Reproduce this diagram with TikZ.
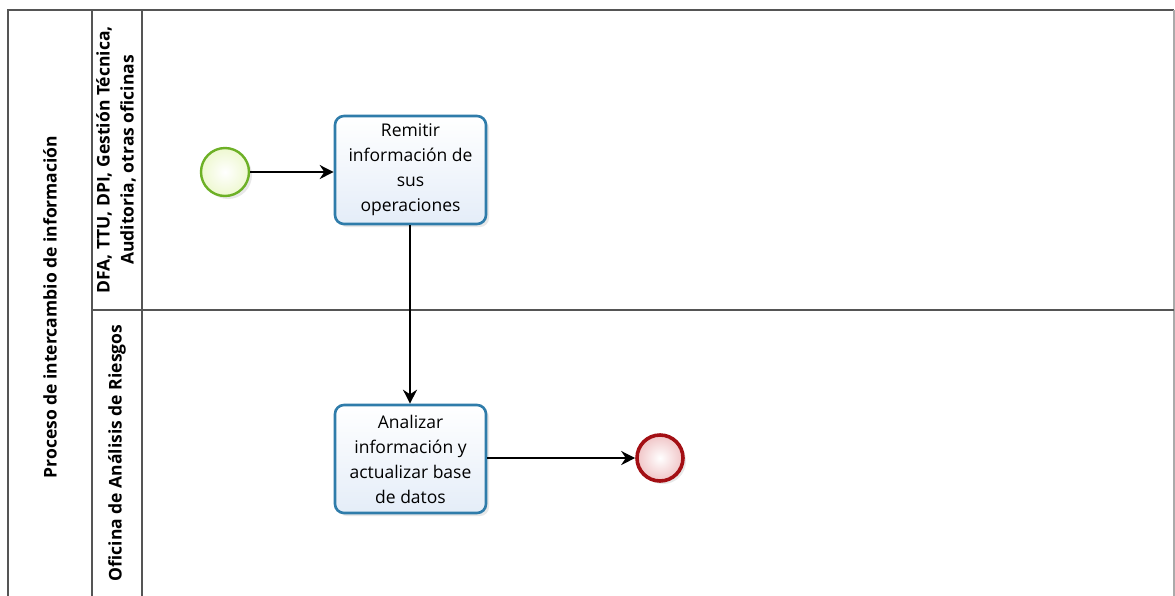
\documentclass[tikz,border=0pt]{standalone}
\usepackage{fontspec}
\setmainfont{Open Sans}
\usetikzlibrary{arrows.meta,shadows}
\definecolor{taskborder}{HTML}{2F7CAA}
\definecolor{taskfill}{HTML}{E4EDF8}
\definecolor{startborder}{HTML}{6DB026}
\definecolor{startfill}{HTML}{EEF8D0}
\definecolor{endborder}{HTML}{A30F14}
\definecolor{endfill}{HTML}{F0C4C6}
\definecolor{frame}{HTML}{555555}
\tikzset{
  frameline/.style={draw=frame, line width=1.6pt},
  task/.style={draw=taskborder, line width=2.6pt, rounded corners=9pt,
    top color=white, bottom color=taskfill, minimum width=151pt, minimum height=108pt,
    align=center, font=\fontsize{17.5}{25}\selectfont, inner sep=0pt,
    drop shadow={shadow xshift=3pt, shadow yshift=-3pt, opacity=0.18}},
  startev/.style={circle, draw=startborder, line width=2.4pt, minimum size=48pt,
    inner color=white, outer color=startfill,
    drop shadow={shadow xshift=3pt, shadow yshift=-3pt, opacity=0.18}},
  endev/.style={circle, draw=endborder, line width=3.6pt, minimum size=46pt,
    inner color=white, outer color=endfill,
    drop shadow={shadow xshift=3pt, shadow yshift=-3pt, opacity=0.18}},
  flow/.style={draw=black, line width=1.5pt, -{Stealth[length=14pt,width=14pt]}},
  lanelabel/.style={rotate=90, align=center, font=\bfseries\fontsize{17.5}{24}\selectfont}
}
\begin{document}
\begin{tikzpicture}[x=1pt,y=-1pt]
\useasboundingbox (0,0) rectangle (1175,595);
\fill[white] (0,0) rectangle (1175,595);
% frame
\draw[frameline] (8,600) -- (8,10) -- (1174,10);
\draw[draw=frame!50, line width=1.2pt] (1174,10) -- (1174,600);
\draw[frameline] (92,10) -- (92,600);
\draw[frameline] (142,10) -- (142,600);
\draw[frameline] (92,310) -- (1174,310);
% labels
\node[lanelabel] (pool) at (50,307) {Proceso de intercambio de información};
\node[lanelabel] (lane1) at (116,160) {DFA, TTU, DPI, Gestión Técnica,\\Auditoria, otras oficinas};
\node[lanelabel] (lane2) at (117,453) {Oficina de Análisis de Riesgos};
% elements
\node[startev] (start) at (225,172) {};
\node[task] (t1) at (410.5,170) {Remitir\\información de\\sus\\operaciones};
\node[task] (t2) at (410.5,459) {Analizar\\información y\\actualizar base\\de datos};
\node[endev] (end) at (660,458) {};
% flows
\draw[flow] (start) -- (t1.west |- start);
\draw[flow] (t1.south -| 410,0) -- (t2.north -| 410,0);
\draw[flow] (t2.east |- end) -- (end);
\end{tikzpicture}
\end{document}
